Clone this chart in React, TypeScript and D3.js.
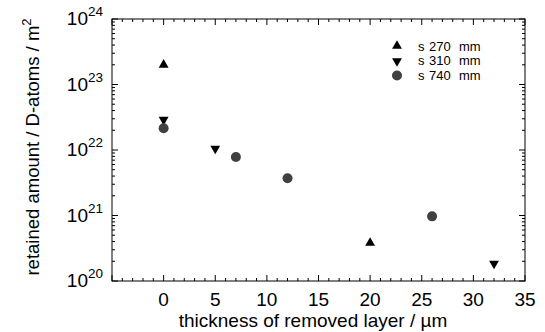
import React from "react";
import * as d3 from "d3";

const s270X = [0, 20];
const s270Y = [2.0e23, 3.8e20];
const s310X = [0, 5, 32];
const s310Y = [2.9e22, 1.05e22, 1.85e20];
const s740X = [0, 7, 12, 26];
const s740Y = [2.15e22, 7.8e21, 3.7e21, 9.7e20];
const xTicks = [0, 5, 10, 15, 20, 25, 30, 35];
const yExps = [20, 21, 22, 23, 24];
const legendParts = [["s", "270", "mm"], ["s", "310", "mm"], ["s", "740", "mm"]];

const W = 545, H = 332;
const L = 112, R = 525, T = 19, B = 281;
const FONT = "'Liberation Sans', Arial, Helvetica, sans-serif";

export default function App() {
  const x = d3.scaleLinear().domain([-5, 35]).range([L, R]);
  const y = d3.scaleLog().domain([1e20, 1e24]).range([B, T]);
  const triUp = d3.symbol().type(d3.symbolTriangle).size(42)()!;
  const triDown = triUp;
  const minorX = d3.range(-5, 36, 1).filter((v) => v % 5 !== 0);
  const majorX = d3.range(-5, 36, 5);
  const minorY: number[] = [];
  yExps.slice(0, -1).forEach((e) => {
    for (let k = 2; k <= 9; k++) minorY.push(k * Math.pow(10, e));
  });
  const ax = "#000";
  return (
    <svg width={W} height={H} style={{ position: "absolute", left: 0, top: 0, background: "#fff" }} fontFamily={FONT}>
      <rect x={L} y={T} width={R - L} height={B - T} fill="none" stroke={ax} strokeWidth={1} />
      {majorX.map((v) => (
        <g key={"mx" + v}>
          <line x1={x(v)} x2={x(v)} y1={B} y2={B - 6} stroke={ax} />
          <line x1={x(v)} x2={x(v)} y1={T} y2={T + 6} stroke={ax} />
        </g>
      ))}
      {minorX.map((v) => (
        <g key={"nx" + v}>
          <line x1={x(v)} x2={x(v)} y1={B} y2={B - 3} stroke={ax} />
          <line x1={x(v)} x2={x(v)} y1={T} y2={T + 3} stroke={ax} />
        </g>
      ))}
      {yExps.map((e) => (
        <g key={"my" + e}>
          <line x1={L} x2={L + 6} y1={y(Math.pow(10, e))} y2={y(Math.pow(10, e))} stroke={ax} />
          <line x1={R} x2={R - 6} y1={y(Math.pow(10, e))} y2={y(Math.pow(10, e))} stroke={ax} />
        </g>
      ))}
      {minorY.map((v, i) => (
        <g key={"ny" + i}>
          <line x1={L} x2={L + 3} y1={y(v)} y2={y(v)} stroke={ax} />
          <line x1={R} x2={R - 3} y1={y(v)} y2={y(v)} stroke={ax} />
        </g>
      ))}
      {xTicks.map((v) => (
        <text key={"xl" + v} x={x(v)} y={306} textAnchor="middle" fontSize={19}>{v}</text>
      ))}
      {yExps.map((e) => (
        <text key={"yl" + e} x={88} y={y(Math.pow(10, e)) + 6} textAnchor="end" fontSize={19}>
          10
        </text>
      ))}
      {yExps.map((e) => (
        <text key={"ye" + e} x={88} y={y(Math.pow(10, e)) - 3} textAnchor="start" fontSize={13.5}>
          {e}
        </text>
      ))}
      <text x={313} y={327} textAnchor="middle" fontSize={19}>thickness of removed layer / µm</text>
      <text transform={`translate(39,${(T + B) / 2 - 3}) rotate(-90)`} textAnchor="middle" fontSize={18.5}>
        retained amount / D-atoms / m<tspan dy={-8} fontSize={13}>2</tspan>
      </text>
      {s270X.map((v, i) => (
        <path key={"a" + i} d={triUp} transform={`translate(${x(v)},${y(s270Y[i])})`} fill="#000" />
      ))}
      {s310X.map((v, i) => (
        <path key={"b" + i} d={triDown} transform={`translate(${x(v)},${y(s310Y[i])}) rotate(180)`} fill="#000" />
      ))}
      {s740X.map((v, i) => (
        <circle key={"c" + i} cx={x(v)} cy={y(s740Y[i])} r={5} fill="#404040" />
      ))}
      <path d={triUp} transform="translate(397,46)" fill="#000" />
      <path d={triDown} transform="translate(397,61) rotate(180)" fill="#000" />
      <circle cx={397} cy={75.5} r={5} fill="#404040" />
      {legendParts.map((p, i) => (
        <g key={i} fontSize={13}>
          <text x={418} y={50.5 + i * 14.7}>{p[0]}</text>
          <text x={429} y={50.5 + i * 14.7}>{p[1]}</text>
          <text x={459} y={50.5 + i * 14.7}>{p[2]}</text>
        </g>
      ))}
    </svg>
  );
}
